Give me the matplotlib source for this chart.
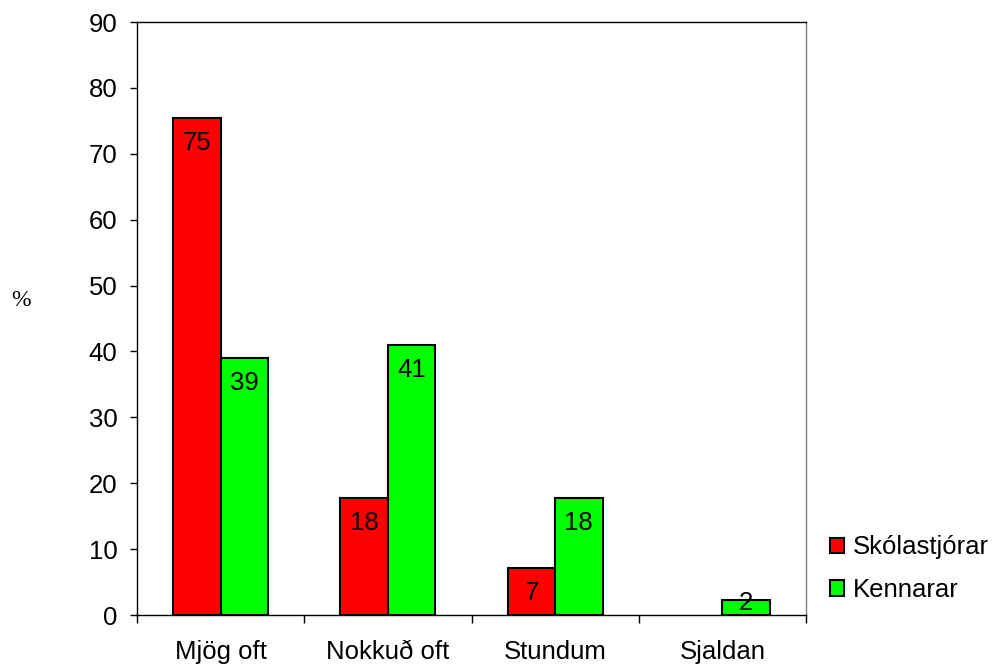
import numpy as np
import matplotlib.pyplot as plt

# Data
categories = ['Mjög oft', 'Nokkuð oft', 'Stundum', 'Sjaldan']
skolastjorar = [75.4, 17.8, 7.1, 0]
kennarar = [39.0, 41.0, 17.8, 2.3]
series_names = ['Skólastjórar', 'Kennarar']

plt.rcParams['font.family'] = ['Liberation Sans', 'DejaVu Sans']
FS = 18.5

fig = plt.figure(figsize=(9.96, 6.69), dpi=100)
ax = fig.add_axes([0.1376, 0.0807, 0.6716, 0.8864])

x = np.arange(len(categories))
w = 0.284
b1 = ax.bar(x - w / 2, skolastjorar, w, color='#ff0000', edgecolor='black', linewidth=1.5, label=series_names[0])
b2 = ax.bar(x + w / 2, kennarar, w, color='#00ff00', edgecolor='black', linewidth=1.5, label=series_names[1])

# Value labels inside the top of each bar
for bars, vals in [(b1, skolastjorar), (b2, kennarar)]:
    for rect, v in zip(bars, vals):
        if v <= 0:
            rect.set_visible(False)
            continue
        cx = rect.get_x() + rect.get_width() / 2
        if v < 5:
            ax.annotate('%.0f' % v, (cx, v), xytext=(0, -2), textcoords='offset points',
                        ha='center', va='center', fontsize=FS)
        else:
            ax.annotate('%.0f' % v, (cx, v), xytext=(0, -18), textcoords='offset points',
                        ha='center', va='center', fontsize=FS)

ax.set_xlim(-0.5, len(categories) - 0.5)
ax.set_ylim(0, 90)
ax.set_yticks(np.arange(0, 91, 10))
ax.set_xticks(x)
ax.set_xticklabels(categories)
ax.set_xticks(np.arange(-0.5, len(categories), 1), minor=True)
ax.tick_params(axis='x', which='major', length=0, pad=18, labelsize=FS)
ax.tick_params(axis='x', which='minor', length=6, width=1, color='black')
ax.tick_params(axis='y', length=5, width=1, labelsize=FS, pad=9)

for s in ['left', 'bottom', 'top']:
    ax.spines[s].set_color('black')
    ax.spines[s].set_linewidth(1)
ax.spines['right'].set_color('#808080')
ax.spines['right'].set_linewidth(1)

fig.text(0.021, 0.551, '%', fontsize=17, family='Liberation Serif', ha='center', va='center')

fig.legend(handles=[b1, b2], labels=series_names, loc='center left', bbox_to_anchor=(0.81, 0.15),
           frameon=False, fontsize=FS, handlelength=0.55, handleheight=0.55, handletextpad=0.35,
           labelspacing=0.72)

fig.savefig('out.png', dpi=100)
